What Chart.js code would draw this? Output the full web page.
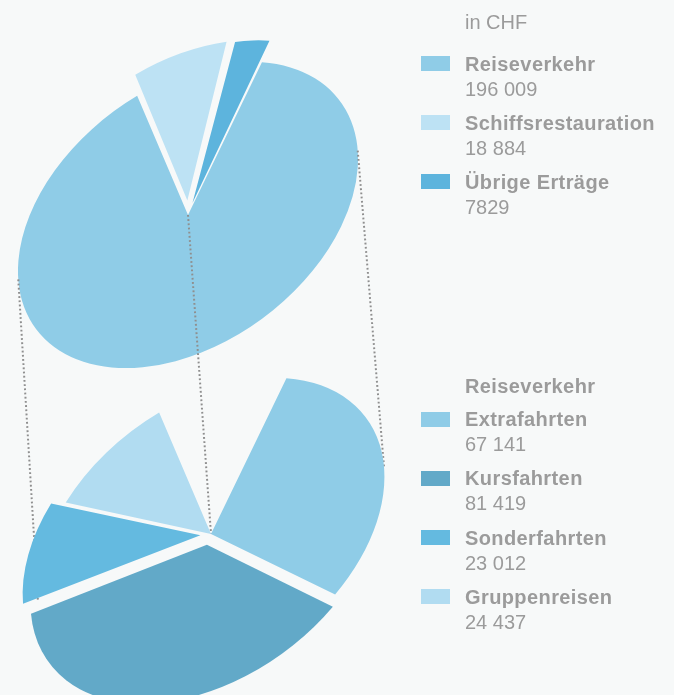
<!DOCTYPE html>
<html>
<head>
<meta charset="utf-8">
<script src="https://cdn.jsdelivr.net/npm/chart.js@4/dist/chart.umd.min.js"></script>
<style>
  html, body { margin: 0; padding: 0; }
  body { width: 674px; height: 695px; overflow: hidden; position: relative; background: #f7f9f9;
         font-family: "Liberation Sans", Arial, Helvetica, sans-serif; color: #9b9b9b; }
  canvas.layer { position: absolute; left: 0; top: 0; }
  .t { position: absolute; white-space: nowrap; font-size: 20px; line-height: 20px; }
  .b { font-weight: bold; letter-spacing: 0.4px; }
  .sw { position: absolute; width: 29px; height: 15px; }
</style>
</head>
<body>
<canvas id="topChart" class="layer" width="674" height="695"></canvas>
<canvas id="bottomChart" class="layer" width="674" height="695"></canvas>
<div id="legend"></div>
<script>
// ---------- data ----------
const unitLabel = 'in CHF';
const topLabels = ['Reiseverkehr', 'Schiffsrestauration', 'Übrige Erträge'];
const topValues = [196009, 18884, 7829];
const topColors = ['#8fcce7', '#bde2f4', '#5db4dd'];

const bottomTitle = 'Reiseverkehr';
const bottomLabels = ['Extrafahrten', 'Kursfahrten', 'Sonderfahrten', 'Gruppenreisen'];
const bottomValues = [67141, 81419, 23012, 24437];
const bottomColors = ['#8fcce7', '#62a9c8', '#64bae0', '#b1dcf1'];

// ---------- style / layout ----------
const BG = '#f7f9f9';
const TILT = -37 * Math.PI / 180;   // rotation of the ellipse
const SQUASH = 0.671;               // minor / major axis
const RADIUS = 190;
const ROTATION = 52.6;
const TOP_CENTER = [188, 215];
const BOTTOM_CENTER = [211, 534];
const BOTTOM_SCALE = 1.02;

function fmt(n) {
  return n < 10000 ? String(n) : String(n).replace(/\B(?=(\d{3})+(?!\d))/g, ' ');
}

function perspective(center, k) {
  return {
    id: 'perspective',
    beforeDatasetsDraw(chart) {
      const arc = chart.getDatasetMeta(0).data[0];
      const ctx = chart.ctx;
      ctx.save();
      ctx.translate(center[0], center[1]);
      ctx.rotate(TILT);
      ctx.scale(k, k * SQUASH);
      ctx.translate(-arc.x, -arc.y);
    },
    afterDatasetsDraw(chart) { chart.ctx.restore(); }
  };
}

function ellipseMatrix(k) {
  const c = Math.cos(TILT), s = Math.sin(TILT);
  const a = RADIUS * k, b = a * SQUASH;
  return [[c * a, -s * b], [s * a, c * b]];
}
function tangentPoint(center, M, n) {
  const v = [M[0][0] * n[0] + M[1][0] * n[1], M[0][1] * n[0] + M[1][1] * n[1]];
  const L = Math.hypot(v[0], v[1]);
  const u = [v[0] / L, v[1] / L];
  return [center[0] + M[0][0] * u[0] + M[0][1] * u[1], center[1] + M[1][0] * u[0] + M[1][1] * u[1]];
}

// dotted connectors drawn on the upper chart's canvas, so the lower pie covers their ends
const connectors = {
  id: 'connectors',
  afterDraw(chart) {
    const ctx = chart.ctx;
    const d = [BOTTOM_CENTER[0] - TOP_CENTER[0], BOTTOM_CENTER[1] - TOP_CENTER[1]];
    const L = Math.hypot(d[0], d[1]);
    const n = [-d[1] / L, d[0] / L];
    const Mt = ellipseMatrix(1), Mb = ellipseMatrix(BOTTOM_SCALE);
    const lines = [
      [tangentPoint(TOP_CENTER, Mt, n), tangentPoint(BOTTOM_CENTER, Mb, n)],
      [tangentPoint(TOP_CENTER, Mt, [-n[0], -n[1]]), tangentPoint(BOTTOM_CENTER, Mb, [-n[0], -n[1]])],
      [TOP_CENTER, BOTTOM_CENTER]
    ];
    ctx.save();
    ctx.strokeStyle = '#8f8f8f';
    ctx.lineWidth = 2;
    ctx.lineCap = 'butt';
    ctx.setLineDash([1.8, 2.4]);
    lines.forEach(([p, q]) => {
      ctx.beginPath();
      ctx.moveTo(p[0], p[1]);
      ctx.lineTo(q[0], q[1]);
      ctx.stroke();
    });
    ctx.restore();
  }
};

const common = {
  responsive: false,
  maintainAspectRatio: false,
  animation: false,
  events: [],
  rotation: ROTATION,
  radius: RADIUS,
  layout: { padding: 0 },
  plugins: { legend: { display: false }, tooltip: { enabled: false } }
};

new Chart(document.getElementById('topChart'), {
  type: 'pie',
  data: {
    labels: topLabels,
    datasets: [{
      data: topValues,
      backgroundColor: topColors,
      borderWidth: 0,
      offset: [0, 78, 60],
      clip: false
    }]
  },
  options: common,
  plugins: [perspective(TOP_CENTER, 1), connectors]
});

new Chart(document.getElementById('bottomChart'), {
  type: 'pie',
  data: {
    labels: bottomLabels.concat(['']),
    datasets: [{
      // the breakdown of "Reiseverkehr" occupies the same sector as in the upper pie
      data: bottomValues.concat([topValues[1] + topValues[2]]),
      backgroundColor: bottomColors.concat(['rgba(0,0,0,0)']),
      borderWidth: 0,
      offset: [0, 52, 48, 0, 0],
      clip: false
    }]
  },
  options: common,
  plugins: [perspective(BOTTOM_CENTER, BOTTOM_SCALE)]
});

// ---------- legends (HTML text) ----------
const legend = document.getElementById('legend');
function addText(txt, x, baseline, bold) {
  const el = document.createElement('div');
  el.className = 't' + (bold ? ' b' : '');
  el.textContent = txt;
  el.style.left = x + 'px';
  el.style.top = (baseline - 17) + 'px';
  legend.appendChild(el);
}
function addSwatch(color, x, top) {
  const el = document.createElement('div');
  el.className = 'sw';
  el.style.left = x + 'px';
  el.style.top = top + 'px';
  el.style.background = color;
  legend.appendChild(el);
}
const SW_X = 421, TX_X = 465;
addText(unitLabel, TX_X, 29, false);
topLabels.forEach((lab, i) => {
  const base = 71 + i * 59;
  addSwatch(topColors[i], SW_X, base - 15);
  addText(lab, TX_X, base, true);
  addText(fmt(topValues[i]), TX_X, base + 25, false);
});
addText(bottomTitle, TX_X, 393, true);
bottomLabels.forEach((lab, i) => {
  const base = 426 + i * 59.3;
  addSwatch(bottomColors[i], SW_X, Math.round(base - 14.5));
  addText(lab, TX_X, base, true);
  addText(fmt(bottomValues[i]), TX_X, base + 25, false);
});
</script>
</body>
</html>
